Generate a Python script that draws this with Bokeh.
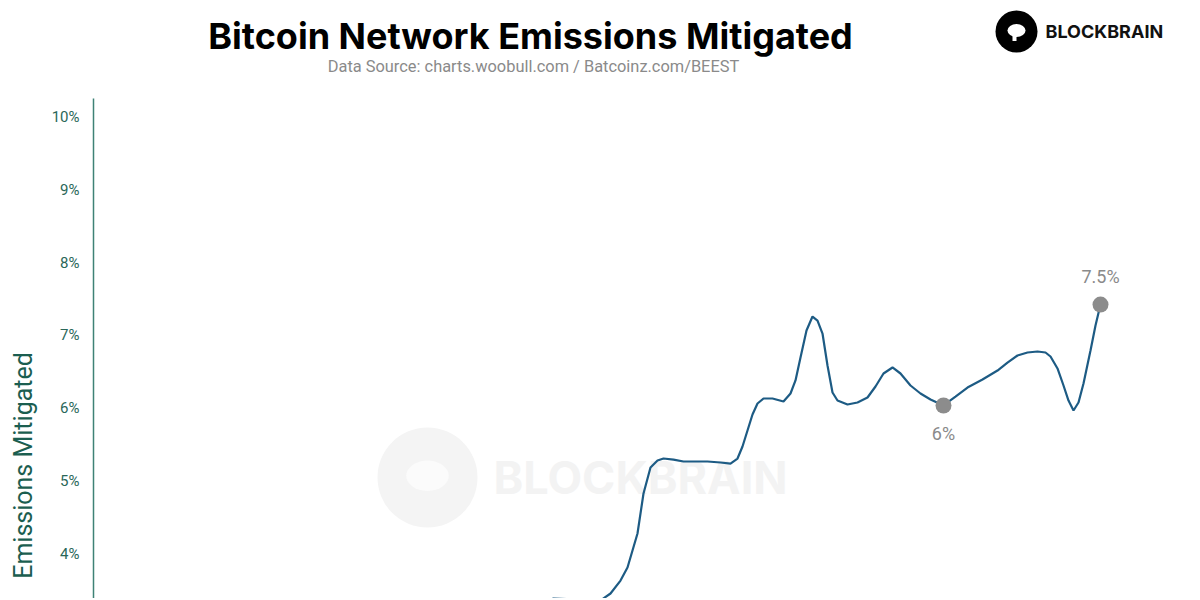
from bokeh.plotting import figure
from bokeh.models import Range1d, FixedTicker, PrintfTickFormatter, ColumnDataSource
from bokeh.layouts import column, row
from bokeh.core.properties import value
from bokeh.embed import file_html
from bokeh.resources import INLINE

# ---------------- data ----------------
period = [87.4, 92, 96.4, 101.4, 103.4, 105.4, 106.8, 108.8, 110, 111.4, 112.8, 114, 116, 118,
          120.4, 122.8, 125.4, 127.4, 128.8, 129.8, 130.8, 131.8, 132.8, 134, 135.8, 138, 139.4,
          140.4, 141.4, 142.6, 143.8, 144.8, 145.8, 146.8, 147.8, 148.8, 150.8, 152.8, 154.8,
          156.4, 158, 159.8, 161.4, 163.4, 165.4, 167.4, 170, 172.4, 174.8, 177.8, 180.8, 182.8,
          184.8, 186.8, 188.8, 190.4, 191.4, 192.8, 194, 195, 196, 197, 198, 199.4, 200.4, 201.4]
mitigated = [3.25, 3.381, 3.367, 3.353, 3.450, 3.628, 3.807, 4.275, 4.826, 5.183, 5.280, 5.307,
             5.293, 5.266, 5.266, 5.266, 5.252, 5.238, 5.307, 5.472, 5.693, 5.913, 6.064, 6.133,
             6.133, 6.092, 6.202, 6.381, 6.697, 7.069, 7.261, 7.206, 7.027, 6.587, 6.216, 6.105,
             6.050, 6.078, 6.147, 6.298, 6.477, 6.560, 6.477, 6.312, 6.202, 6.119, 6.037, 6.160,
             6.284, 6.394, 6.518, 6.628, 6.725, 6.766, 6.780, 6.766, 6.711, 6.546, 6.312, 6.105,
             5.968, 6.078, 6.339, 6.793, 7.137, 7.426]
highlight_period = [170, 201.4]
highlight_value = [6.037, 7.426]
highlight_label = ["6%", "7.5%"]
y_ticks = [4, 5, 6, 7, 8, 9, 10]

TITLE = "Bitcoin Network Emissions Mitigated"
SUBTITLE = "Data Source: charts.woobull.com / Batcoinz.com/BEEST"
BRAND = "BLOCKBRAIN"
Y_LABEL = "Emissions Mitigated"

# ---------------- header ----------------
h = figure(width=1200, height=98, x_range=Range1d(0, 1200), y_range=Range1d(0, 98),
           toolbar_location=None, output_backend="svg", min_border=0,
           x_axis_location=None, y_axis_location=None)
h.outline_line_color = None
h.grid.visible = False
h.text(x=[530], y=[63], text=[TITLE], text_font=value("Inter"),
       text_font_style="bold", text_font_size="36px", text_color="#000000",
       text_align="center", text_baseline="alphabetic")
h.text(x=[533], y=[32], text=[SUBTITLE], text_font=value("Roboto"),
       text_font_size="16.4px", text_color="#8a8a8a",
       text_align="center", text_baseline="alphabetic")
# logo
h.scatter(x=[1016], y=[67], size=42, marker="circle", fill_color="#000000", line_color=None)
h.ellipse(x=[1016], y=[68], width=18, height=13, fill_color="#ffffff", line_color=None)
h.rect(x=[1014], y=[60], width=4, height=5, fill_color="#ffffff", line_color=None)
h.text(x=[1045], y=[67], text=[BRAND], text_font=value("Inter"), text_font_style="bold",
       text_font_size="18px", text_color="#111111", text_align="left", text_baseline="middle")

# ---------------- y-axis title panel ----------------
lab = figure(width=45, height=500, x_range=Range1d(0, 45), y_range=Range1d(0, 500),
             toolbar_location=None, output_backend="svg", min_border=0,
             x_axis_location=None, y_axis_location=None)
lab.outline_line_color = None
lab.grid.visible = False
lab.text(x=[23], y=[133], text=[Y_LABEL], angle=1.5708, text_font=value("Roboto"),
         text_font_size="25px", text_color="#1b5e50",
         text_align="center", text_baseline="middle")

# ---------------- main chart ----------------
p = figure(width=1155, height=500, x_range=Range1d(0, 221.4), y_range=Range1d(3.381, 10.261),
           toolbar_location=None, output_backend="svg",
           min_border_left=48, min_border_right=0, min_border_top=0, min_border_bottom=0,
           x_axis_location=None)
p.outline_line_color = None
p.grid.visible = False

# watermark
p.scatter(x=[66.8], y=[5.046], size=100, marker="circle", fill_color="#f4f4f4", line_color=None)
p.ellipse(x=[66.8], y=[5.07], width=8.5, height=0.42, fill_color="#fbfbfb", line_color=None)
p.text(x=[80], y=[5.046], text=[BRAND], text_font=value("Inter"), text_font_style="bold",
       text_font_size="45px", text_color="#f3f3f3", text_align="left", text_baseline="middle")

src = ColumnDataSource(dict(x=period, y=mitigated))
p.line("x", "y", source=src, line_color="#1d5b84", line_width=2.2)

hs = ColumnDataSource(dict(x=highlight_period, y=highlight_value, t=highlight_label,
                           off=[28, -28]))
p.scatter("x", "y", source=hs, size=16, marker="circle", fill_color="#8c8c8c", line_color=None)
p.text("x", "y", text="t", source=hs, y_offset="off", text_font=value("Roboto"),
       text_font_size="18px", text_color="#8a8a8a", text_align="center", text_baseline="middle")

yax = p.yaxis[0]
yax.ticker = FixedTicker(ticks=y_ticks)
yax.formatter = PrintfTickFormatter(format="%d%%")
yax.major_tick_line_color = None
yax.minor_tick_line_color = None
yax.axis_line_color = "#3e8276"
yax.axis_line_width = 1.5
yax.major_label_standoff = 8
yax.major_label_text_font = "Roboto"
yax.major_label_text_font_size = "15px"
yax.major_label_text_color = "#2a6759"

layout = column(h, row(lab, p, spacing=0), spacing=0)
open("out.html", "w").write(file_html(layout, INLINE))
